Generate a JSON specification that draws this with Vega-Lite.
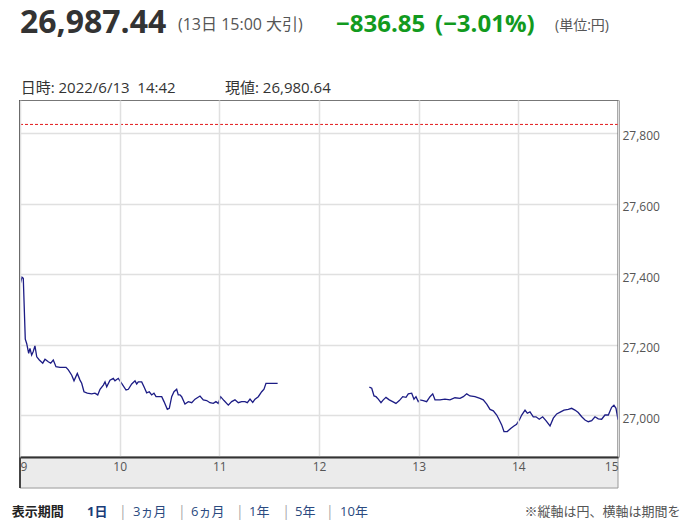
{
  "$schema": "https://vega.github.io/schema/vega-lite/v6.json",
  "autosize": {"type": "none"},
  "width": 598,
  "height": 357,
  "padding": {"left": 20, "top": 100, "right": 62, "bottom": 68},
  "background": "white",
  "config": {
    "view": {"stroke": "#777", "strokeWidth": 1},
    "font": "Open Sans, Noto Sans CJK JP"
  },
  "data": {"values": [{}]},
  "datasets": {
    "series": [
      {"t": 9.000, "v": 27369, "s": "am"}, {"t": 9.020, "v": 27391, "s": "am"}, {"t": 9.033, "v": 27388, "s": "am"},
      {"t": 9.053, "v": 27215, "s": "am"}, {"t": 9.067, "v": 27203, "s": "am"}, {"t": 9.087, "v": 27175, "s": "am"},
      {"t": 9.100, "v": 27189, "s": "am"}, {"t": 9.117, "v": 27170, "s": "am"}, {"t": 9.133, "v": 27180, "s": "am"},
      {"t": 9.150, "v": 27196, "s": "am"}, {"t": 9.168, "v": 27165, "s": "am"}, {"t": 9.194, "v": 27156, "s": "am"},
      {"t": 9.228, "v": 27147, "s": "am"}, {"t": 9.251, "v": 27158, "s": "am"}, {"t": 9.284, "v": 27151, "s": "am"},
      {"t": 9.308, "v": 27147, "s": "am"}, {"t": 9.334, "v": 27156, "s": "am"}, {"t": 9.361, "v": 27137, "s": "am"},
      {"t": 9.401, "v": 27135, "s": "am"}, {"t": 9.462, "v": 27135, "s": "am"}, {"t": 9.485, "v": 27128, "s": "am"},
      {"t": 9.519, "v": 27113, "s": "am"}, {"t": 9.542, "v": 27097, "s": "am"}, {"t": 9.575, "v": 27118, "s": "am"},
      {"t": 9.602, "v": 27099, "s": "am"}, {"t": 9.619, "v": 27090, "s": "am"}, {"t": 9.642, "v": 27066, "s": "am"},
      {"t": 9.675, "v": 27062, "s": "am"}, {"t": 9.719, "v": 27060, "s": "am"}, {"t": 9.752, "v": 27062, "s": "am"},
      {"t": 9.780, "v": 27057, "s": "am"}, {"t": 9.803, "v": 27073, "s": "am"}, {"t": 9.836, "v": 27085, "s": "am"},
      {"t": 9.853, "v": 27094, "s": "am"}, {"t": 9.870, "v": 27080, "s": "am"}, {"t": 9.903, "v": 27099, "s": "am"},
      {"t": 9.936, "v": 27104, "s": "am"}, {"t": 9.953, "v": 27097, "s": "am"}, {"t": 9.986, "v": 27104, "s": "am"},
      {"t": 10.020, "v": 27090, "s": "am"}, {"t": 10.064, "v": 27071, "s": "am"}, {"t": 10.087, "v": 27073, "s": "am"},
      {"t": 10.121, "v": 27088, "s": "am"}, {"t": 10.154, "v": 27097, "s": "am"}, {"t": 10.171, "v": 27088, "s": "am"},
      {"t": 10.187, "v": 27094, "s": "am"}, {"t": 10.221, "v": 27094, "s": "am"}, {"t": 10.244, "v": 27080, "s": "am"},
      {"t": 10.271, "v": 27063, "s": "am"}, {"t": 10.297, "v": 27066, "s": "am"}, {"t": 10.321, "v": 27057, "s": "am"},
      {"t": 10.344, "v": 27062, "s": "am"}, {"t": 10.365, "v": 27052, "s": "am"}, {"t": 10.388, "v": 27052, "s": "am"},
      {"t": 10.422, "v": 27052, "s": "am"}, {"t": 10.445, "v": 27038, "s": "am"}, {"t": 10.478, "v": 27016, "s": "am"},
      {"t": 10.498, "v": 27019, "s": "am"}, {"t": 10.522, "v": 27052, "s": "am"}, {"t": 10.545, "v": 27066, "s": "am"},
      {"t": 10.572, "v": 27073, "s": "am"}, {"t": 10.588, "v": 27057, "s": "am"}, {"t": 10.605, "v": 27057, "s": "am"},
      {"t": 10.622, "v": 27052, "s": "am"}, {"t": 10.655, "v": 27031, "s": "am"}, {"t": 10.689, "v": 27038, "s": "am"},
      {"t": 10.723, "v": 27035, "s": "am"}, {"t": 10.756, "v": 27045, "s": "am"}, {"t": 10.806, "v": 27054, "s": "am"},
      {"t": 10.839, "v": 27043, "s": "am"}, {"t": 10.873, "v": 27041, "s": "am"}, {"t": 10.906, "v": 27035, "s": "am"},
      {"t": 10.939, "v": 27033, "s": "am"}, {"t": 10.966, "v": 27038, "s": "am"}, {"t": 10.989, "v": 27033, "s": "am"},
      {"t": 11.013, "v": 27052, "s": "am"}, {"t": 11.047, "v": 27041, "s": "am"}, {"t": 11.090, "v": 27028, "s": "am"},
      {"t": 11.124, "v": 27038, "s": "am"}, {"t": 11.157, "v": 27043, "s": "am"}, {"t": 11.190, "v": 27035, "s": "am"},
      {"t": 11.224, "v": 27038, "s": "am"}, {"t": 11.257, "v": 27038, "s": "am"}, {"t": 11.281, "v": 27035, "s": "am"},
      {"t": 11.308, "v": 27045, "s": "am"}, {"t": 11.335, "v": 27036, "s": "am"}, {"t": 11.358, "v": 27045, "s": "am"},
      {"t": 11.391, "v": 27052, "s": "am"}, {"t": 11.425, "v": 27066, "s": "am"}, {"t": 11.448, "v": 27073, "s": "am"},
      {"t": 11.468, "v": 27090, "s": "am"}, {"t": 11.508, "v": 27090, "s": "am"}, {"t": 11.585, "v": 27090, "s": "am"},
      {"t": 12.505, "v": 27079, "s": "pm"}, {"t": 12.529, "v": 27076, "s": "pm"}, {"t": 12.552, "v": 27054, "s": "pm"},
      {"t": 12.572, "v": 27052, "s": "pm"}, {"t": 12.595, "v": 27045, "s": "pm"}, {"t": 12.622, "v": 27035, "s": "pm"},
      {"t": 12.645, "v": 27043, "s": "pm"}, {"t": 12.672, "v": 27050, "s": "pm"}, {"t": 12.705, "v": 27043, "s": "pm"},
      {"t": 12.739, "v": 27038, "s": "pm"}, {"t": 12.772, "v": 27033, "s": "pm"}, {"t": 12.806, "v": 27041, "s": "pm"},
      {"t": 12.840, "v": 27052, "s": "pm"}, {"t": 12.873, "v": 27050, "s": "pm"}, {"t": 12.896, "v": 27060, "s": "pm"},
      {"t": 12.930, "v": 27062, "s": "pm"}, {"t": 12.953, "v": 27045, "s": "pm"}, {"t": 12.973, "v": 27052, "s": "pm"},
      {"t": 12.996, "v": 27038, "s": "pm"}, {"t": 13.013, "v": 27043, "s": "pm"}, {"t": 13.046, "v": 27041, "s": "pm"},
      {"t": 13.080, "v": 27038, "s": "pm"}, {"t": 13.114, "v": 27052, "s": "pm"}, {"t": 13.141, "v": 27060, "s": "pm"},
      {"t": 13.164, "v": 27043, "s": "pm"}, {"t": 13.214, "v": 27043, "s": "pm"}, {"t": 13.264, "v": 27045, "s": "pm"},
      {"t": 13.314, "v": 27043, "s": "pm"}, {"t": 13.364, "v": 27049, "s": "pm"}, {"t": 13.415, "v": 27047, "s": "pm"},
      {"t": 13.448, "v": 27052, "s": "pm"}, {"t": 13.482, "v": 27060, "s": "pm"}, {"t": 13.515, "v": 27054, "s": "pm"},
      {"t": 13.565, "v": 27052, "s": "pm"}, {"t": 13.615, "v": 27047, "s": "pm"}, {"t": 13.648, "v": 27043, "s": "pm"},
      {"t": 13.683, "v": 27031, "s": "pm"}, {"t": 13.716, "v": 27016, "s": "pm"}, {"t": 13.749, "v": 27012, "s": "pm"},
      {"t": 13.783, "v": 27000, "s": "pm"}, {"t": 13.809, "v": 26986, "s": "pm"}, {"t": 13.833, "v": 26972, "s": "pm"},
      {"t": 13.856, "v": 26953, "s": "pm"}, {"t": 13.889, "v": 26953, "s": "pm"}, {"t": 13.923, "v": 26962, "s": "pm"},
      {"t": 13.956, "v": 26969, "s": "pm"}, {"t": 13.983, "v": 26974, "s": "pm"}, {"t": 14.010, "v": 26986, "s": "pm"},
      {"t": 14.034, "v": 27000, "s": "pm"}, {"t": 14.067, "v": 27014, "s": "pm"}, {"t": 14.090, "v": 27005, "s": "pm"},
      {"t": 14.117, "v": 27009, "s": "pm"}, {"t": 14.150, "v": 26995, "s": "pm"}, {"t": 14.177, "v": 26995, "s": "pm"},
      {"t": 14.210, "v": 26988, "s": "pm"}, {"t": 14.244, "v": 26995, "s": "pm"}, {"t": 14.277, "v": 26984, "s": "pm"},
      {"t": 14.318, "v": 26969, "s": "pm"}, {"t": 14.351, "v": 26991, "s": "pm"}, {"t": 14.385, "v": 27003, "s": "pm"},
      {"t": 14.425, "v": 27009, "s": "pm"}, {"t": 14.458, "v": 27014, "s": "pm"}, {"t": 14.501, "v": 27016, "s": "pm"},
      {"t": 14.535, "v": 27019, "s": "pm"}, {"t": 14.568, "v": 27014, "s": "pm"}, {"t": 14.601, "v": 27007, "s": "pm"},
      {"t": 14.636, "v": 26995, "s": "pm"}, {"t": 14.669, "v": 26986, "s": "pm"}, {"t": 14.702, "v": 26981, "s": "pm"},
      {"t": 14.736, "v": 26984, "s": "pm"}, {"t": 14.769, "v": 26995, "s": "pm"}, {"t": 14.802, "v": 26989, "s": "pm"},
      {"t": 14.836, "v": 26988, "s": "pm"}, {"t": 14.869, "v": 27000, "s": "pm"}, {"t": 14.903, "v": 27000, "s": "pm"},
      {"t": 14.936, "v": 27022, "s": "pm"}, {"t": 14.959, "v": 27028, "s": "pm"}, {"t": 14.980, "v": 27019, "s": "pm"},
      {"t": 15.000, "v": 26987, "s": "pm"}
    ]
  },
  "layer": [
    {
      "data": {"name": "series"},
      "mark": {"type": "line", "color": "#1c1c85", "strokeWidth": 1.3, "interpolate": "linear"},
      "encoding": {
        "x": {
          "field": "t", "type": "quantitative",
          "scale": {"domain": [9, 15], "nice": false, "zero": false},
          "axis": {
            "title": null, "values": [9, 10, 11, 12, 13, 14, 15], "format": "d",
            "labelExpr": "format(datum.value, 'd')",
            "ticks": false, "labelFlush": true, "labelPadding": 4, "labelFontSize": 12,
            "labelColor": "#555", "domainColor": "#333", "domainWidth": 2,
            "grid": true, "gridColor": "#e0e0e0", "gridWidth": 1.5, "zindex": 1
          }
        },
        "y": {
          "field": "v", "type": "quantitative",
          "scale": {"domain": [26880.9, 27893.6], "nice": false, "zero": false},
          "axis": {
            "title": null, "orient": "right", "values": [27000, 27200, 27400, 27600, 27800],
            "format": ",", "labelExpr": "format(datum.value, ',')",
            "ticks": false, "labelPadding": 4, "labelOffset": 3,
            "labelFontSize": 12, "labelColor": "#555", "domainColor": "#333", "domainWidth": 2,
            "grid": true, "gridColor": "#e0e0e0", "gridWidth": 1.5
          }
        },
        "detail": {"field": "s", "type": "nominal"}
      }
    },
    {
      "mark": {"type": "rect", "fill": "#ebebeb", "stroke": "#999", "strokeWidth": 1},
      "encoding": {
        "x": {"datum": 9, "type": "quantitative"}, "x2": {"datum": 15},
        "y": {"datum": 26880.9, "type": "quantitative"}, "y2": {"datum": 26792.9}
      }
    },
    {
      "mark": {"type": "rule", "color": "#e31a1c", "strokeDash": [3, 2], "strokeWidth": 1},
      "encoding": {"y": {"datum": 27824.29, "type": "quantitative"}}
    },
    {
      "mark": {"type": "rule", "color": "#444", "strokeWidth": 2},
      "encoding": {
        "x": {"datum": 9, "type": "quantitative"},
        "y": {"datum": 27893.6, "type": "quantitative"}, "y2": {"datum": 26792.9}
      }
    },
    {
      "mark": {"type": "text", "align": "left", "baseline": "alphabetic", "fontSize": 32, "fontWeight": "bold", "color": "#333"},
      "encoding": {"x": {"datum": 9.0, "type": "quantitative"}, "y": {"datum": 28083.7, "type": "quantitative"}, "text": {"value": "26,987.44"}}
    },
    {
      "mark": {"type": "text", "align": "left", "baseline": "alphabetic", "fontSize": 16, "color": "#555"},
      "encoding": {"x": {"datum": 10.585, "type": "quantitative"}, "y": {"datum": 28092.2, "type": "quantitative"}, "text": {"value": "(13日 15:00 大引)"}}
    },
    {
      "mark": {"type": "text", "align": "left", "baseline": "alphabetic", "fontSize": 24, "fontWeight": "bold", "color": "#129a1e"},
      "encoding": {"x": {"datum": 12.171, "type": "quantitative"}, "y": {"datum": 28086.5, "type": "quantitative"}, "text": {"value": "−836.85"}}
    },
    {
      "mark": {"type": "text", "align": "left", "baseline": "alphabetic", "fontSize": 24, "fontWeight": "bold", "color": "#129a1e"},
      "encoding": {"x": {"datum": 13.164, "type": "quantitative"}, "y": {"datum": 28086.5, "type": "quantitative"}, "text": {"value": "(−3.01%)"}}
    },
    {
      "mark": {"type": "text", "align": "left", "baseline": "alphabetic", "fontSize": 14, "color": "#555"},
      "encoding": {"x": {"datum": 14.368, "type": "quantitative"}, "y": {"datum": 28092.2, "type": "quantitative"}, "text": {"value": "(単位:円)"}}
    },
    {
      "mark": {"type": "text", "align": "left", "baseline": "alphabetic", "fontSize": 15, "color": "#333"},
      "encoding": {"x": {"datum": 9.007, "type": "quantitative"}, "y": {"datum": 27913.5, "type": "quantitative"}, "text": {"value": "日時: 2022/6/13\u00a0\u00a014:42"}}
    },
    {
      "mark": {"type": "text", "align": "left", "baseline": "alphabetic", "fontSize": 15, "color": "#333"},
      "encoding": {"x": {"datum": 11.057, "type": "quantitative"}, "y": {"datum": 27913.5, "type": "quantitative"}, "text": {"value": "現値: 26,980.64"}}
    },
    {
      "mark": {"type": "text", "align": "left", "baseline": "alphabetic", "fontSize": 13, "fontWeight": "bold", "color": "#222"},
      "encoding": {"x": {"datum": 8.917, "type": "quantitative"}, "y": {"datum": 26713.5, "type": "quantitative"}, "text": {"value": "表示期間"}}
    },
    {
      "mark": {"type": "text", "align": "left", "baseline": "alphabetic", "fontSize": 13, "fontWeight": "bold", "color": "#1a3c78"},
      "encoding": {"x": {"datum": 9.672, "type": "quantitative"}, "y": {"datum": 26713.5, "type": "quantitative"}, "text": {"value": "1日"}}
    },
    {
      "mark": {"type": "text", "align": "center", "baseline": "alphabetic", "fontSize": 14, "color": "#aaa"},
      "encoding": {"x": {"datum": 10.033, "type": "quantitative"}, "y": {"datum": 26713.5, "type": "quantitative"}, "text": {"value": "|"}}
    },
    {
      "mark": {"type": "text", "align": "left", "baseline": "alphabetic", "fontSize": 13, "color": "#2b4a80"},
      "encoding": {"x": {"datum": 10.134, "type": "quantitative"}, "y": {"datum": 26713.5, "type": "quantitative"}, "text": {"value": "3ヵ月"}}
    },
    {
      "mark": {"type": "text", "align": "center", "baseline": "alphabetic", "fontSize": 14, "color": "#aaa"},
      "encoding": {"x": {"datum": 10.625, "type": "quantitative"}, "y": {"datum": 26713.5, "type": "quantitative"}, "text": {"value": "|"}}
    },
    {
      "mark": {"type": "text", "align": "left", "baseline": "alphabetic", "fontSize": 13, "color": "#2b4a80"},
      "encoding": {"x": {"datum": 10.716, "type": "quantitative"}, "y": {"datum": 26713.5, "type": "quantitative"}, "text": {"value": "6ヵ月"}}
    },
    {
      "mark": {"type": "text", "align": "center", "baseline": "alphabetic", "fontSize": 14, "color": "#aaa"},
      "encoding": {"x": {"datum": 11.207, "type": "quantitative"}, "y": {"datum": 26713.5, "type": "quantitative"}, "text": {"value": "|"}}
    },
    {
      "mark": {"type": "text", "align": "left", "baseline": "alphabetic", "fontSize": 13, "color": "#2b4a80"},
      "encoding": {"x": {"datum": 11.298, "type": "quantitative"}, "y": {"datum": 26713.5, "type": "quantitative"}, "text": {"value": "1年"}}
    },
    {
      "mark": {"type": "text", "align": "center", "baseline": "alphabetic", "fontSize": 14, "color": "#aaa"},
      "encoding": {"x": {"datum": 11.669, "type": "quantitative"}, "y": {"datum": 26713.5, "type": "quantitative"}, "text": {"value": "|"}}
    },
    {
      "mark": {"type": "text", "align": "left", "baseline": "alphabetic", "fontSize": 13, "color": "#2b4a80"},
      "encoding": {"x": {"datum": 11.759, "type": "quantitative"}, "y": {"datum": 26713.5, "type": "quantitative"}, "text": {"value": "5年"}}
    },
    {
      "mark": {"type": "text", "align": "center", "baseline": "alphabetic", "fontSize": 14, "color": "#aaa"},
      "encoding": {"x": {"datum": 12.11, "type": "quantitative"}, "y": {"datum": 26713.5, "type": "quantitative"}, "text": {"value": "|"}}
    },
    {
      "mark": {"type": "text", "align": "left", "baseline": "alphabetic", "fontSize": 13, "color": "#2b4a80"},
      "encoding": {"x": {"datum": 12.211, "type": "quantitative"}, "y": {"datum": 26713.5, "type": "quantitative"}, "text": {"value": "10年"}}
    },
    {
      "mark": {"type": "text", "align": "left", "baseline": "alphabetic", "fontSize": 13, "color": "#555"},
      "encoding": {"x": {"datum": 14.062, "type": "quantitative"}, "y": {"datum": 26713.5, "type": "quantitative"}, "text": {"value": "※縦軸は円、横軸は期間を"}}
    }
  ]
}
